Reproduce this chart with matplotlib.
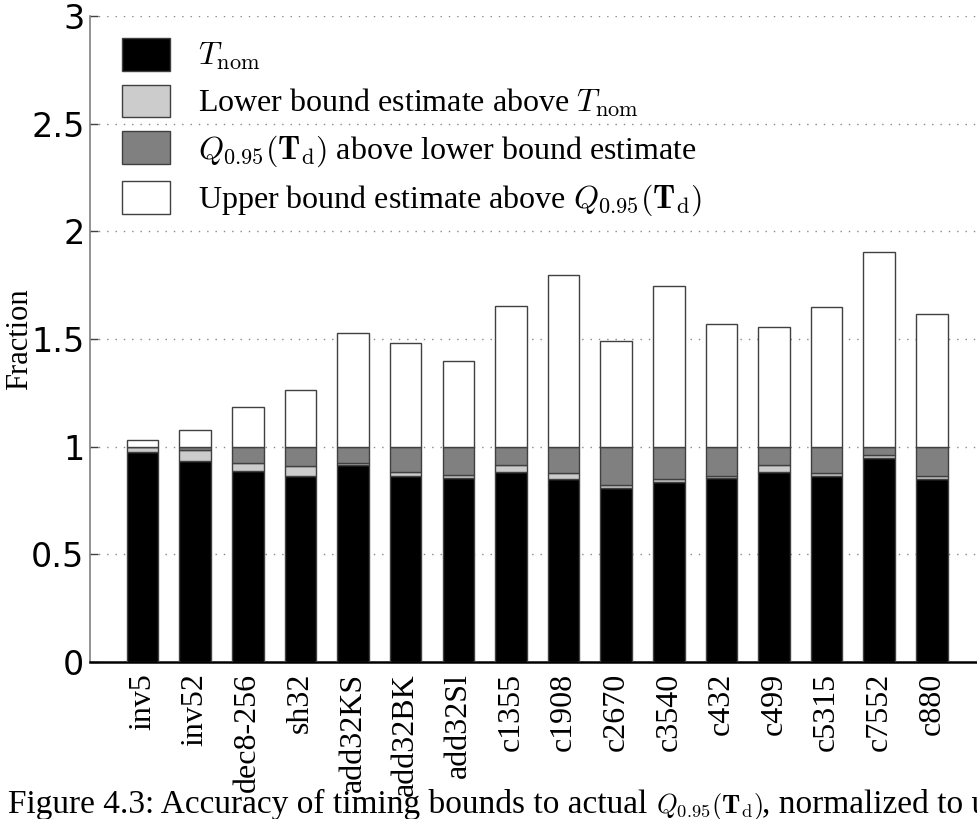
import numpy as np
import matplotlib
matplotlib.use("Agg")
import matplotlib.pyplot as plt
from matplotlib.patches import Patch
from matplotlib.transforms import IdentityTransform

plt.rcParams['mathtext.fontset'] = 'cm'

circuits = ["inv5", "inv52", "dec8-256", "sh32", "add32KS", "add32BK", "add32Sl",
            "c1355", "c1908", "c2670", "c3540", "c432", "c499", "c5315", "c7552", "c880"]

# everything normalized to Q_0.95(T_d) = 1
t_nom = [0.977, 0.932, 0.888, 0.865, 0.916, 0.865, 0.856,
         0.884, 0.852, 0.807, 0.837, 0.854, 0.880, 0.863, 0.947, 0.851]
lower = [1.000, 0.984, 0.922, 0.911, 0.922, 0.884, 0.868,
         0.914, 0.876, 0.820, 0.849, 0.866, 0.914, 0.876, 0.960, 0.866]
q95 = [1.0] * 16
upper = [1.031, 1.077, 1.183, 1.265, 1.526, 1.481, 1.396,
         1.655, 1.798, 1.489, 1.745, 1.571, 1.554, 1.647, 1.906, 1.615]

labels = [r"$T_\mathrm{nom}$",
          r"Lower bound estimate above $T_\mathrm{nom}$",
          r"$Q_{0.95}(\mathbf{T}_\mathrm{d})$ above lower bound estimate",
          r"Upper bound estimate above $Q_{0.95}(\mathbf{T}_\mathrm{d})$"]
colors = ["black", "#cccccc", "#808080", "white"]

caption = ["Figure 4.3: Accuracy of timing bounds to actual ",
           r"$Q_{0.95}(\mathbf{T}_\mathrm{d})$",
           ", normalized to upper bound estimate"]

serif = "Liberation Serif"
sans = "DejaVu Sans"

fig = plt.figure(figsize=(9.77, 8.19), dpi=100)
ax = fig.add_axes([0.0921, 0.1917, 0.9156, 0.7888])

x = np.arange(1, len(circuits) + 1)
t_nom = np.array(t_nom)
lower = np.array(lower)
q95 = np.array(q95)
upper = np.array(upper)

w = 0.6
ec = "#404040"
ax.bar(x, t_nom, w, color=colors[0], edgecolor=ec, linewidth=1, zorder=3)
ax.bar(x, lower - t_nom, w, bottom=t_nom, color=colors[1], edgecolor=ec, linewidth=1, zorder=3)
ax.bar(x, q95 - lower, w, bottom=lower, color=colors[2], edgecolor=ec, linewidth=1, zorder=3)
ax.bar(x, upper - q95, w, bottom=q95, color=colors[3], edgecolor=ec, linewidth=1, zorder=3)

ax.set_xlim(0, 17)
ax.set_ylim(0, 3)
ax.set_yticks([0, 0.5, 1, 1.5, 2, 2.5, 3])
ax.set_yticklabels(["0", "0.5", "1", "1.5", "2", "2.5", "3"], fontfamily=sans, fontsize=24)
ax.set_xticks(x)
ax.set_xticklabels(circuits, rotation=90, fontfamily=serif, fontsize=23)
ax.tick_params(axis='x', length=0, pad=8)
ax.tick_params(axis='y', direction='in', length=6, width=1, color="#404040", pad=4)

ax.yaxis.grid(True, linestyle=(0, (1, 5)), color="#888888", linewidth=1)
ax.set_axisbelow(True)

for s in ["top", "right"]:
    ax.spines[s].set_visible(False)
ax.spines["left"].set_color("#808080")
ax.spines["left"].set_linewidth(1.2)
ax.spines["bottom"].set_color("black")
ax.spines["bottom"].set_linewidth(1.8)

ax.set_ylabel("Fraction", fontfamily=serif, fontsize=22, labelpad=-2)

handles = [Patch(facecolor=c, edgecolor="#404040", linewidth=1) for c in colors]
ax.legend(handles, labels, loc="upper left", bbox_to_anchor=(0.022, 0.986), frameon=False,
          prop={"family": serif, "size": 23}, handlelength=1.5, handleheight=1.2,
          labelspacing=0.38, handletextpad=0.85, borderaxespad=0)

# caption: text, inline math, text -- laid out along one baseline in pixels
renderer = fig.canvas.get_renderer()
cx, cy = 8, 6
sizes = [24, 19, 24]
for part, size in zip(caption, sizes):
    t = fig.text(cx, cy, part, fontfamily=serif, fontsize=size, va="baseline", ha="left",
                 transform=IdentityTransform())
    cx = t.get_window_extent(renderer).x1

fig.savefig("out.png", dpi=100)
